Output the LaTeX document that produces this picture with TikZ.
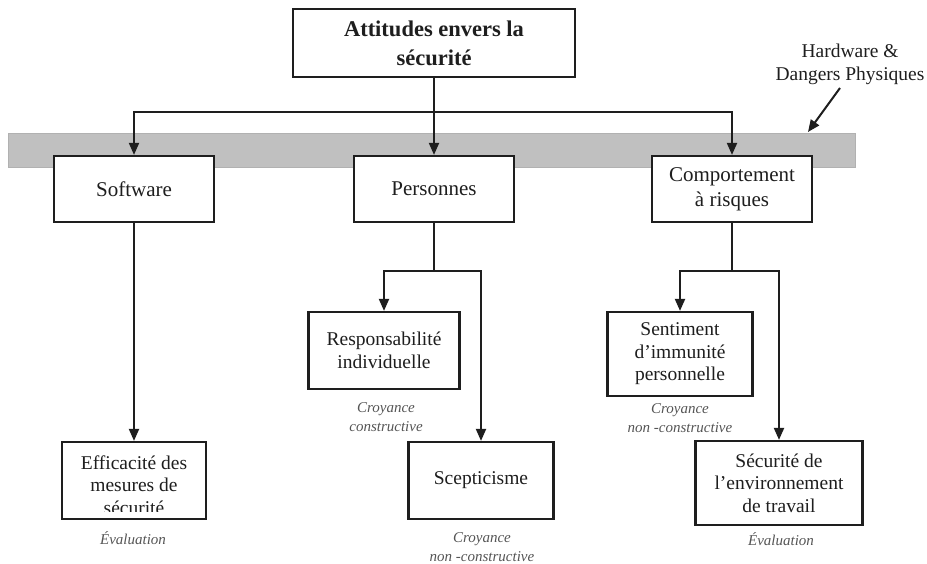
\documentclass[tikz,border=0pt]{standalone}
\usepackage{fontspec}
\setmainfont{Liberation Serif}
\usetikzlibrary{arrows.meta}
\definecolor{bargray}{RGB}{192,192,192}
\definecolor{ink}{RGB}{30,30,30}
\definecolor{notegray}{RGB}{85,85,85}
\begin{document}
\begin{tikzpicture}[x=1pt,y=-1pt,
  box/.style={draw=ink, line width=2.2pt, fill=white, inner sep=0pt, align=center, text=ink},
  upper/.style={box, font=\fontsize{21}{25}\selectfont, minimum width=160pt, minimum height=66pt},
  lower/.style={box, font=\fontsize{19.5}{22.5}\selectfont},
  boxtext/.style={inner sep=0pt, align=center, text=ink, font=\fontsize{19.5}{22.5}\selectfont},
  conn/.style={line width=2pt, draw=ink},
  arr/.style={conn, -{Triangle[length=12pt,width=10pt]}},
  note/.style={inner sep=0pt, align=center, text=notegray, font=\itshape\fontsize{15}{19}\selectfont}
]
\useasboundingbox (0,0) rectangle (927,564);

% grey bar
\node[fill=bargray, draw=bargray!92!black, line width=0.6pt, minimum width=847pt, minimum height=34pt, inner sep=0pt] (bar) at (431.5,150) {};

% top node
\node[box, font=\bfseries\fontsize{22.5}{29}\selectfont, minimum width=282pt, minimum height=68pt] (top) at (434,43) {Attitudes envers la\\sécurité};

% hardware label
\node[inner sep=0pt, align=center, text=ink, font=\fontsize{19.5}{23}\selectfont] (hw) at (850,64) {Hardware \&\\Dangers Physiques};
\coordinate (hwstart) at (840,88);
\coordinate (hwtip) at (808,132);
\draw[arr] (hwstart) -- (hwtip);

% second level
\node[upper] (sw) at (134,189) {Software};
\node[upper] (pe) at (434,189) {Personnes};
\node[upper] (cb) at (732,189) {Comportement\\à risques};

\coordinate (j1) at (434,112);
\draw[conn] (top.south) -- (j1);
\draw[arr] (j1) -| (sw.north);
\draw[arr] (j1) -- (pe.north);
\draw[arr] (j1) -| (cb.north);

% software branch
\node[lower, minimum width=144pt, minimum height=77pt] (eff) at (134,480.5) {};
\begin{scope}
  \clip (62,443) rectangle (206,511);
  \node[boxtext] (efft) at (134,485) {Efficacité des\\mesures de\\sécurité};
\end{scope}
\node[note] (ev1) at (133,538) {Évaluation};
\draw[arr] (sw.south) -- (eff.north);

% personnes branch
\node[lower, minimum width=151pt, minimum height=77pt] (resp) at (384,350.5) {Responsabilité\\individuelle};
\node[note] (cr1) at (386,417) {Croyance\\constructive};
\node[lower, minimum width=145pt, minimum height=77pt] (scep) at (481,480.5) {Scepticisme};
\node[note] (cr2) at (482,547) {Croyance\\non -constructive};
\coordinate (j2) at (434,271);
\draw[conn] (pe.south) -- (j2);
\draw[arr] (j2) -| (resp.north);
\draw[arr] (j2) -| (scep.north);

% comportement branch
\node[lower, minimum width=145pt, minimum height=84pt] (sent) at (680,354) {Sentiment\\d’immunité\\personnelle};
\node[note] (cr3) at (680,418) {Croyance\\non -constructive};
\node[lower, minimum width=167pt, minimum height=84pt] (secu) at (779,483) {Sécurité de\\l’environnement\\de travail};
\node[note] (ev2) at (781,539) {Évaluation};
\coordinate (j3) at (732,271);
\draw[conn] (cb.south) -- (j3);
\draw[arr] (j3) -| (sent.north);
\draw[arr] (j3) -| (secu.north);
\end{tikzpicture}
\end{document}
